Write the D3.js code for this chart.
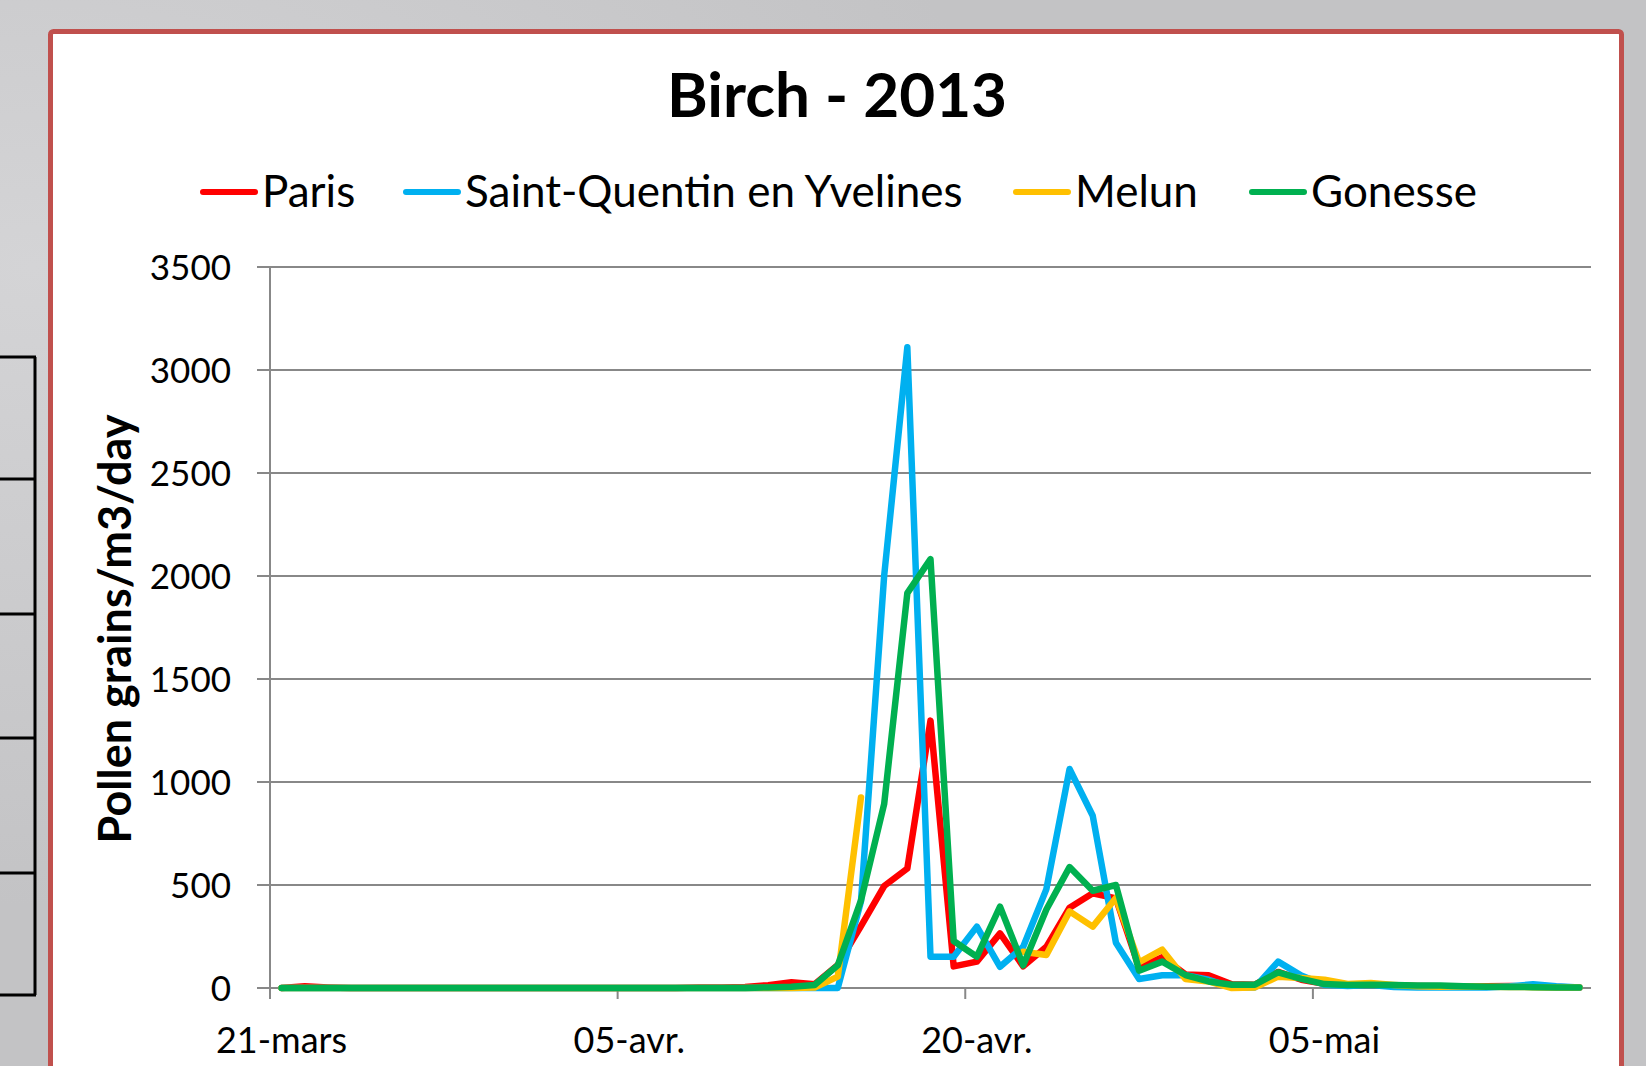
<!DOCTYPE html>
<meta charset="utf-8">
<style>* {padding:0; margin:0; border:0; outline:0;} body {background:#c6c6c6; overflow:hidden;}</style>
<body>
<script src="https://d3js.org/d3.v7.min.js"></script>
<script>
// birch pollen, one value per day from 21 March to 16 May 2013
var startDay = new Date(2013, 2, 21)
var days = d3.timeDay.range(startDay, new Date(2013, 4, 17))

var paris = [0,8,3,0,0,0,0,0,0,0, 0,0,0,0,0,0,0,0,2,3, 5,14,28,18,112,300,495,580,1298,105,
  128,265,105,200,390,460,435,100,150,66, 62,18,16,78,40,20,15,16,12,10, 8,6,8,10,6,5,2]
var stQuentin = [0,0,0,0,0,0,0,0,0,0, 0,0,0,0,0,0,0,0,0,0, 0,0,0,0,0,420,2000,3110,152,152,
  298,103,200,480,1063,836,220,44,62,62, 40,3,3,128,60,16,10,14,5,2, 2,2,3,8,18,8,2]
var melun = [0,0,0,0,0,0,0,0,0,0, 0,0,0,0,0,0,0,0,0,0, 0,0,0,2,55,925,null,null,null,null,
  null,null,176,160,372,298,437,125,186,44, 32,0,3,55,48,40,20,24,15,8, 6,8,6,5,4,3,2]
var gonesse = [0,0,0,0,0,0,0,0,0,0, 0,0,0,0,0,0,0,0,0,0, 0,3,6,15,110,425,893,1917,2082,228,
  152,395,110,381,587,472,500,84,128,63, 32,16,16,76,44,19,15,16,14,12, 12,8,6,5,4,3,2]

var seriesNames = ["Paris", "Saint-Quentin en Yvelines", "Melun", "Gonesse"]
var seriesColors = ["#ff0000", "#00b0f0", "#ffc000", "#00b050"]
var yTicks = [0, 500, 1000, 1500, 2000, 2500, 3000, 3500]
var xTickDays = [0, 15, 30, 45]
var xTickLabels = ["21-mars", "05-avr.", "20-avr.", "05-mai"]

var series = [paris, stQuentin, melun, gonesse]

var W = 1646, H = 1066
var font = "Lato, 'Open Sans', sans-serif"

svg = d3.select('body').append('svg')
  .attr('width', W).attr('height', H)

// grey backdrop
var defs = svg.append('defs')
var grad = defs.append('radialGradient').attr('id', 'bg')
  .attr('cx', '0.02').attr('cy', '0.25').attr('r', '0.6')
grad.append('stop').attr('offset', '0').attr('stop-color', '#d4d4d6')
grad.append('stop').attr('offset', '1').attr('stop-color', '#c3c3c5')
svg.append('rect').attr('width', W).attr('height', H).attr('fill', 'url(#bg)')

// table edge peeking in on the left
var tableRows = [357, 479, 614, 738, 873, 995]
svg.append('line').attr('x1', 35).attr('x2', 35).attr('y1', tableRows[0]).attr('y2', tableRows[5])
  .attr('stroke', '#000').attr('stroke-width', 3)
svg.selectAll('.trow').data(tableRows).enter().append('line')
  .attr('x1', 0).attr('x2', 36).attr('y1', d => d).attr('y2', d => d)
  .attr('stroke', '#000').attr('stroke-width', 3)

// chart frame
svg.append('rect').attr('x', 50.5).attr('y', 31.5).attr('width', 1571).attr('height', 1100)
  .attr('rx', 3).attr('fill', '#fff').attr('stroke', '#c0504d').attr('stroke-width', 5)

var plotL = 270, plotR = 1591, plotT = 267, plotB = 988

x = d3.scaleBand().domain(d3.range(days.length)).range([plotL, plotR]).padding(0)
y = d3.scaleLinear().domain([0, 3500]).range([plotB, plotT])
var cx = i => x(i) + x.bandwidth() / 2

// gridlines
svg.selectAll('.grid').data(yTicks).enter().append('line')
  .attr('x1', plotL - 13).attr('x2', plotR)
  .attr('y1', d => y(d)).attr('y2', d => y(d))
  .attr('stroke', '#888').attr('stroke-width', 2)

// y axis line + labels
svg.append('line').attr('x1', plotL).attr('x2', plotL).attr('y1', plotT).attr('y2', plotB + 10)
  .attr('stroke', '#888').attr('stroke-width', 2)
svg.selectAll('.ylab').data(yTicks).enter().append('text')
  .attr('x', 231).attr('y', d => y(d)).attr('dy', '0.36em')
  .attr('text-anchor', 'end').style('font', '35px ' + font).style('fill', '#000')
  .text(d => d)

// x ticks at day boundaries, labels at day centres
svg.selectAll('.xtick').data(xTickDays).enter().append('line')
  .attr('x1', d => x(d)).attr('x2', d => x(d)).attr('y1', plotB).attr('y2', plotB + 11)
  .attr('stroke', '#888').attr('stroke-width', 2)
svg.selectAll('.xlab').data(xTickDays).enter().append('text')
  .attr('x', d => cx(d)).attr('y', 1053).attr('text-anchor', 'middle')
  .style('font', '36px ' + font).style('fill', '#000')
  .text((d, i) => xTickLabels[i])

// series
var line = d3.line()
  .defined(d => d != null)
  .x((d, i) => cx(i)).y(d => y(d))

svg.selectAll('.series').data(series).enter().append('path')
  .attr('d', d => line(d))
  .attr('fill', 'none')
  .attr('stroke', (d, i) => seriesColors[i])
  .attr('stroke-width', 6.5)
  .attr('stroke-linejoin', 'round')
  .attr('stroke-linecap', 'round')

// title
svg.append('text').attr('x', 837).attr('y', 117).attr('text-anchor', 'middle')
  .style('font', 'bold 62px ' + font).style('fill', '#000').text('Birch - 2013')

// y title
svg.append('text').attr('transform', 'translate(131,629) rotate(-90)')
  .attr('text-anchor', 'middle')
  .style('font', 'bold 45px ' + font).style('fill', '#000').text('Pollen grains/m3/day')

// legend
var legendX = [203, 406, 1016, 1252]
var lg = svg.selectAll('.leg').data(seriesNames).enter().append('g')
  .attr('transform', (d, i) => 'translate(' + legendX[i] + ',192)')
lg.append('line').attr('x1', 0).attr('x2', 52)
  .attr('stroke', (d, i) => seriesColors[i]).attr('stroke-width', 6).attr('stroke-linecap', 'round')
lg.append('text').attr('x', 59).attr('dy', '0.35em')
  .style('font', '44px ' + font).style('fill', '#000').text(d => d)
</script>
